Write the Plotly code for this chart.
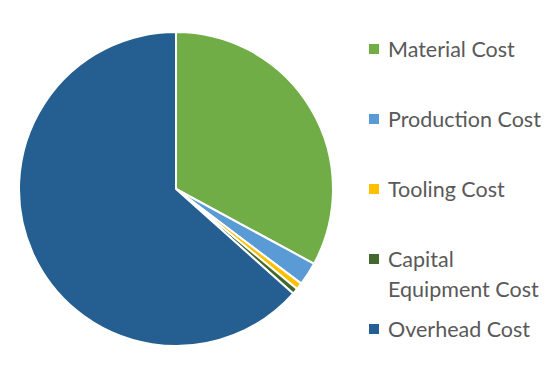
import plotly.graph_objects as go

labels = ["Material Cost", "Production Cost", "Tooling Cost", "Capital Equipment Cost", "Overhead Cost"]
legend_text = ["Material Cost", "Production Cost", "Tooling Cost", "Capital<br>Equipment Cost", "Overhead Cost"]
values = [32.9, 2.4, 0.7, 0.6, 63.4]
colors = ["#70AD47", "#5B9BD5", "#FFC000", "#43682B", "#255E91"]

W, H = 558, 374
fig = go.Figure()
fig.add_trace(go.Pie(
    labels=labels, values=values, sort=False, direction="clockwise", rotation=0,
    marker=dict(colors=colors, line=dict(color="white", width=2)),
    textinfo="none", hoverinfo="label+percent", showlegend=False,
    domain=dict(x=[19 / W, 333 / W], y=[(H - 346) / H, (H - 32) / H]),
))

font = dict(family="Lato, 'Open Sans', sans-serif", size=21.5, color="#595959")
item_y = [49, 119, 189, 259, 329]
for lab, col, yc in zip(legend_text, colors, item_y):
    fig.add_shape(type="rect", xref="paper", yref="paper",
                  x0=369 / W, x1=379 / W, y0=(H - yc - 5) / H, y1=(H - yc + 5) / H,
                  fillcolor=col, line=dict(width=0))
    for k, line in enumerate(lab.split("<br>")):
        fig.add_annotation(text=line, xref="paper", yref="paper",
                           x=386 / W, y=(H - yc - 30 * k) / H, xanchor="left", yanchor="middle",
                           showarrow=False, font=font)

fig.update_layout(width=W, height=H, margin=dict(l=0, r=0, t=0, b=0),
                  paper_bgcolor="white", plot_bgcolor="white")
fig.write_html("out.html", config={"displayModeBar": False},
               post_script="document.body.style.margin='0';")
